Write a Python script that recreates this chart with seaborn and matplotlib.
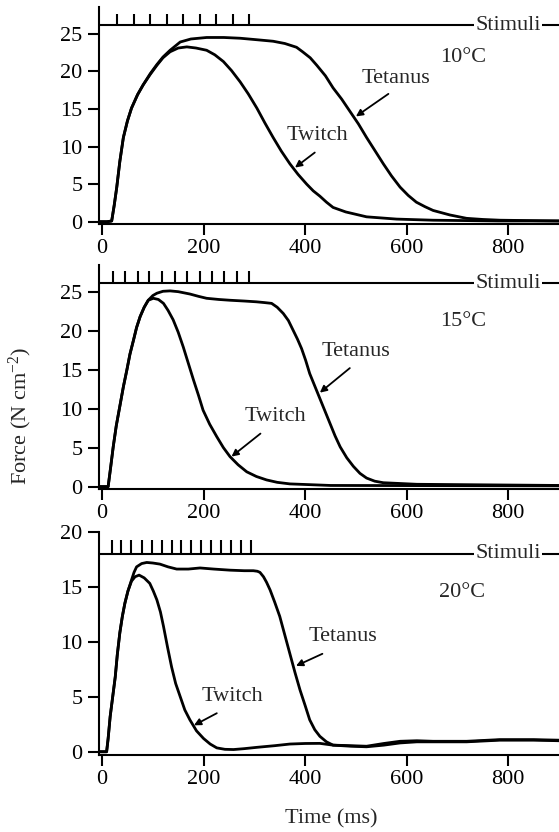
import numpy as np
import pandas as pd
import matplotlib
matplotlib.use('Agg')
import matplotlib.pyplot as plt
import seaborn as sns

# time (ms) / force (N cm-2)
TWITCH_10_T = [-6, 10, 19, 24, 29, 35, 42, 50, 58, 70, 81, 95, 108, 120, 134, 150, 167, 185, 206, 222, 239, 255,
               272, 288, 305, 321, 337, 353, 370, 386, 403, 416, 429, 442, 455, 480, 521, 580, 652, 780, 900]
TWITCH_10_F = [0, 0, 0.1, 2.2, 4.6, 8.0, 11.2, 13.4, 15.1, 16.9, 18.2, 19.6, 20.8, 21.8, 22.6, 23.1, 23.25, 23.1, 22.8, 22.2, 21.3, 20.1,
               18.6, 17.0, 15.1, 13.1, 11.2, 9.4, 7.7, 6.3, 5.0, 4.1, 3.4, 2.6, 1.9, 1.3, 0.65, 0.35, 0.2, 0.1, 0.1]
TETANUS_10_T = [-6, 10, 19, 24, 29, 35, 42, 50, 58, 70, 81, 95, 108, 120, 134, 154, 175, 206, 240, 272, 305, 337, 360,
                383, 395, 410, 423, 440, 455, 472, 488, 505, 521, 538, 554, 570, 587, 603, 619, 636, 652, 685, 718, 750, 784, 900]
TETANUS_10_F = [0, 0, 0.1, 2.2, 4.6, 8.0, 11.2, 13.4, 15.1, 16.9, 18.2, 19.7, 20.9, 21.9, 22.8, 23.9, 24.3, 24.5, 24.5, 24.4, 24.2, 24.0, 23.7,
                23.2, 22.6, 21.8, 20.8, 19.4, 17.8, 16.3, 14.7, 13.0, 11.2, 9.4, 7.7, 6.1, 4.6, 3.5, 2.6, 2.0, 1.5, 0.9, 0.45, 0.3, 0.2, 0.1]

TWITCH_15_T = [-6, 12, 17, 22, 28, 35, 42, 49, 55, 62, 68, 75, 83, 91, 101, 111, 121, 130, 140, 150, 160, 170, 180,
               190, 199, 212, 226, 239, 252, 268, 285, 304, 324, 345, 370, 450, 900]
TWITCH_15_F = [0, 0, 2.5, 5.1, 7.8, 10.3, 12.8, 15.0, 17.0, 18.8, 20.4, 21.8, 23.0, 23.9, 24.15, 24.0, 23.5, 22.6, 21.4, 19.8, 17.9, 15.8, 13.7,
               11.7, 9.8, 8.0, 6.4, 5.0, 3.85, 2.8, 1.9, 1.3, 0.86, 0.55, 0.35, 0.15, 0.1]
TETANUS_15_T = [-6, 12, 17, 22, 28, 35, 42, 49, 55, 62, 68, 75, 83, 91, 100, 108, 120, 134, 150, 173, 190, 206, 230, 252,
                280, 304, 320, 334, 345, 357, 367, 376, 385, 393, 401, 409, 419, 429, 439, 449, 459, 469, 482, 495, 508,
                521, 537, 554, 620, 900]
TETANUS_15_F = [0, 0, 2.5, 5.1, 7.8, 10.3, 12.8, 15.0, 17.0, 18.8, 20.4, 21.8, 23.0, 23.9, 24.5, 24.8, 25.05, 25.1, 25.0, 24.7, 24.4, 24.15, 24.0, 23.9,
                23.8, 23.7, 23.6, 23.5, 23.0, 22.2, 21.3, 20.1, 18.9, 17.7, 16.2, 14.5, 12.9, 11.3, 9.7, 8.1, 6.5, 5.1, 3.7, 2.6, 1.7,
                1.1, 0.7, 0.5, 0.3, 0.15]

TWITCH_20_T = [-6, 9, 12, 16, 21, 26, 30, 35, 40, 45, 51, 58, 65, 73, 83, 94, 101, 108, 115, 121, 129, 137, 145, 154,
               163, 173, 186, 200, 213, 226, 242, 259, 280, 305, 340, 370, 400, 429, 455, 490, 521, 555, 587, 620, 652,
               718, 783, 850, 900]
TWITCH_20_F = [0, 0, 1.2, 3.2, 5.0, 6.8, 8.8, 10.8, 12.3, 13.5, 14.6, 15.5, 15.9, 16.05, 15.8, 15.3, 14.6, 13.8, 12.7, 11.4, 9.5, 7.7, 6.2, 5.0,
               3.8, 2.9, 1.9, 1.2, 0.7, 0.35, 0.22, 0.2, 0.28, 0.4, 0.55, 0.7, 0.75, 0.76, 0.6, 0.5, 0.45, 0.6, 0.8, 0.9, 0.9,
               0.9, 1.05, 1.05, 1.0]
TETANUS_20_T = [-6, 9, 12, 16, 21, 26, 30, 35, 40, 45, 51, 58, 63, 68, 78, 88, 100, 114, 130, 147, 170, 193, 220, 252,
                280, 298, 306, 311, 318, 324, 331, 340, 350, 360, 370, 380, 390, 400, 409, 419, 429, 442, 455, 490, 521,
                555, 587, 620, 652, 718, 783, 850, 900]
TETANUS_20_F = [0, 0, 1.2, 3.2, 5.0, 6.8, 8.8, 10.8, 12.3, 13.5, 14.6, 15.6, 16.3, 16.8, 17.1, 17.2, 17.15, 17.05, 16.8, 16.6, 16.6, 16.7, 16.6, 16.5,
                16.45, 16.45, 16.4, 16.3, 15.9, 15.4, 14.7, 13.6, 12.3, 10.6, 8.9, 7.2, 5.6, 4.2, 2.9, 2.0, 1.4, 0.9, 0.6, 0.55, 0.5,
                0.75, 0.95, 1.0, 0.95, 0.95, 1.1, 1.1, 1.05]

# stimulus times (ms)
STIM_10 = [30, 62, 94, 127, 160, 193, 224, 257, 290]
STIM_15 = [21, 45, 70, 93, 119, 144, 168, 192, 216, 240, 265, 290]
STIM_20 = [19, 37, 58, 78, 98, 118, 137, 155, 175, 194, 214, 234, 253, 273, 293]

TEMPS = ['10°C', '15°C', '20°C']
X_TICKS = [0, 200, 400, 600, 800]

PANELS = [
    dict(tw=(TWITCH_10_T, TWITCH_10_F), te=(TETANUS_10_T, TETANUS_10_F), stim=STIM_10,
         ylim=(-0.3, 28.6), yticks=[0, 5, 10, 15, 20, 25], stim_y=26.1, stim_h=1.5,
         pos=[0.1771, 0.7308, 0.8229, 0.2612],
         temp_xy=(711, 21.8),
         te_text=(578, 19.1), te_arrow=((564, 17.0), (500, 14.0)),
         tw_text=(425, 11.4), tw_arrow=((419, 9.2), (380, 7.2))),
    dict(tw=(TWITCH_15_T, TWITCH_15_F), te=(TETANUS_15_T, TETANUS_15_F), stim=STIM_15,
         ylim=(-0.3, 28.4), yticks=[0, 5, 10, 15, 20, 25], stim_y=26.1, stim_h=1.5,
         pos=[0.1771, 0.4123, 0.8229, 0.2690],
         temp_xy=(711, 21.2),
         te_text=(501, 17.3), te_arrow=((488, 15.2), (429, 12.05)),
         tw_text=(341, 9.0), tw_arrow=((312, 6.8), (255, 3.85))),
    dict(tw=(TWITCH_20_T, TWITCH_20_F), te=(TETANUS_20_T, TETANUS_20_F), stim=STIM_20,
         ylim=(-0.3, 20), yticks=[0, 5, 10, 15, 20], stim_y=18.0, stim_h=1.2,
         pos=[0.1771, 0.0925, 0.8229, 0.2685],
         temp_xy=(710, 14.5),
         te_text=(475, 10.45), te_arrow=((434, 8.9), (382, 7.8)),
         tw_text=(257, 5.0), tw_arrow=((226, 3.5), (181, 2.4))),
]

sns.set_style('ticks')
plt.rcParams['font.family'] = ['Liberation Serif', 'DejaVu Serif']
plt.rcParams['mathtext.default'] = 'regular'
FS = 16

fig = plt.figure(figsize=(5.59, 8.32), dpi=100)

for p, temp in zip(PANELS, TEMPS):
    ax = fig.add_axes(p['pos'])

    df = pd.concat([
        pd.DataFrame({'Time': p['tw'][0], 'Force': p['tw'][1], 'Type': 'Twitch'}),
        pd.DataFrame({'Time': p['te'][0], 'Force': p['te'][1], 'Type': 'Tetanus'}),
    ], ignore_index=True)

    sns.lineplot(data=df, x='Time', y='Force', units='Type', estimator=None,
                 color='black', lw=2, sort=False, ax=ax, legend=False)

    # stimulus bar
    ax.axhline(p['stim_y'], color='black', lw=1.5)
    ax.vlines(p['stim'], p['stim_y'], p['stim_y'] + p['stim_h'], color='black', lw=1.5)
    ax.text(800, p['stim_y'], 'Stimuli', ha='center', va='center', fontsize=FS,
            bbox=dict(facecolor='white', edgecolor='none', pad=1))

    ax.text(*p['temp_xy'], temp, ha='center', va='center', fontsize=FS)

    ax.text(*p['te_text'], 'Tetanus', ha='center', va='center', fontsize=FS)
    ax.annotate('', xy=p['te_arrow'][1], xytext=p['te_arrow'][0],
                arrowprops=dict(arrowstyle='-|>', color='black', lw=1.3,
                                mutation_scale=10, shrinkA=0, shrinkB=0))
    ax.text(*p['tw_text'], 'Twitch', ha='center', va='center', fontsize=FS)
    ax.annotate('', xy=p['tw_arrow'][1], xytext=p['tw_arrow'][0],
                arrowprops=dict(arrowstyle='-|>', color='black', lw=1.3,
                                mutation_scale=10, shrinkA=0, shrinkB=0))

    ax.set_xlim(-6, 900)
    ax.set_ylim(*p['ylim'])
    ax.set_xticks(X_TICKS)
    ax.set_yticks(p['yticks'])
    ax.set_xlabel('')
    ax.set_ylabel('')
    ax.tick_params(axis='both', labelsize=FS, length=8, width=1.5, colors='black')
    ax.tick_params(axis='x', pad=3)
    ax.tick_params(axis='y', pad=4)
    sns.despine(ax=ax, top=True, right=True)
    for s in ['left', 'bottom']:
        ax.spines[s].set_linewidth(1.5)
        ax.spines[s].set_color('black')

fig.text(0.036, 0.5, 'Force (N cm$^{-2}$)', rotation=90, ha='center', va='center', fontsize=FS)
fig.text(0.593, 0.016, 'Time (ms)', ha='center', va='center', fontsize=FS)

fig.savefig('out.png', dpi=100)
